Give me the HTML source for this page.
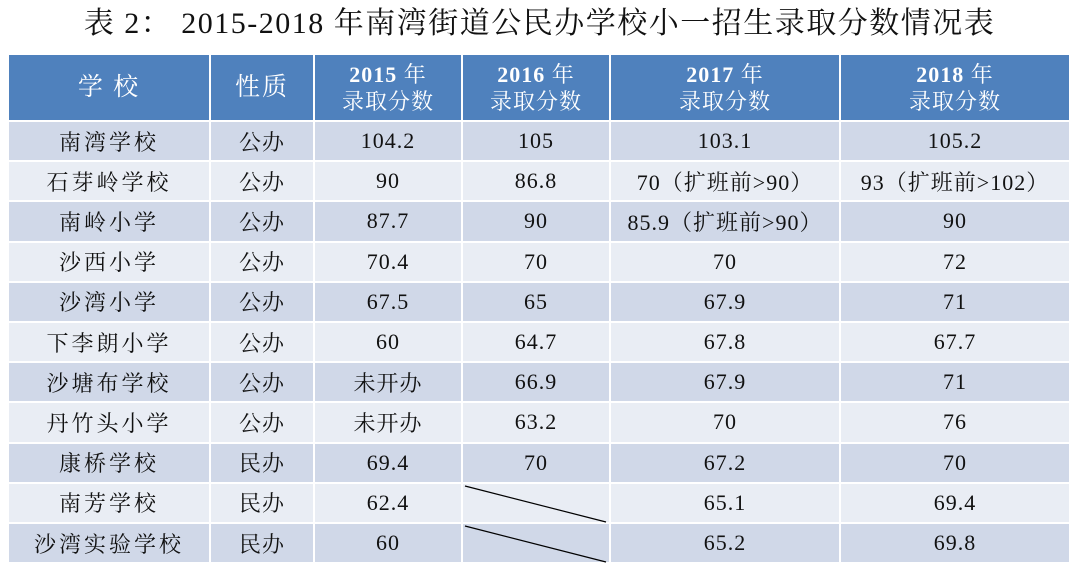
<!DOCTYPE html><html><head><meta charset="utf-8"><style>
body{margin:0;width:1079px;height:573px;background:#fff;position:relative;overflow:hidden;font-family:"Liberation Serif","Noto Serif CJK SC",serif}
.t{position:absolute;left:0;top:4px;width:1079px;text-align:center;font-size:30px;letter-spacing:1.5px;color:#111;line-height:40px}
.c{position:absolute;display:flex;align-items:center;justify-content:center;text-align:center;color:#111;font-size:22px;box-sizing:border-box;letter-spacing:1px}
.h{background:#4f81bd;color:#fff;line-height:27px;font-size:22px}
.h b{font-weight:bold}
</style></head><body>
<div class="t">表 2：  2015-2018 年南湾街道公民办学校小一招生录取分数情况表</div>
<div id="g"></div>
<script>
var X=[9,211,315,463,611,841,1071];
var H=[["学 校"],["性质"],["<b>2015</b> 年<br>录取分数"],["<b>2016</b> 年<br>录取分数"],["<b>2017</b> 年<br>录取分数"],["<b>2018</b> 年<br>录取分数"]];
var D=[["南湾学校","公办","104.2","105","103.1","105.2"],
["石芽岭学校","公办","90","86.8","70（扩班前>90）","93（扩班前>102）"],
["南岭小学","公办","87.7","90","85.9（扩班前>90）","90"],
["沙西小学","公办","70.4","70","70","72"],
["沙湾小学","公办","67.5","65","67.9","71"],
["下李朗小学","公办","60","64.7","67.8","67.7"],
["沙塘布学校","公办","未开办","66.9","67.9","71"],
["丹竹头小学","公办","未开办","63.2","70","76"],
["康桥学校","民办","69.4","70","67.2","70"],
["南芳学校","民办","62.4","","65.1","69.4"],
["沙湾实验学校","民办","60","","65.2","69.8"]];
var s="";
for(var i=0;i<6;i++){s+='<div class="c h" style="left:'+X[i]+'px;top:55px;width:'+(X[i+1]-X[i]-2)+'px;height:65px;'+(i<2?'font-size:25px;letter-spacing:2px':'')+'"><div>'+H[i]+'</div></div>';}
var y0=122,rh=40.2;
for(var r=0;r<11;r++){var y=y0+r*rh;var bg=r%2?'#e9edf4':'#d0d8e8';
for(var i=0;i<6;i++){var t=D[r][i];var ls=i==0?'letter-spacing:3px;':'';
s+='<div class="c" style="left:'+X[i]+'px;top:'+y+'px;width:'+(X[i+1]-X[i]-2)+'px;height:'+(rh-2)+'px;background:'+bg+';'+ls+'"><div>'+t+'</div></div>';
if(r>=9&&i==3)s+='<svg style="position:absolute;left:'+X[i]+'px;top:'+y+'px" width="146" height="40"><line x1="2" y1="2" x2="143" y2="38" stroke="#000" stroke-width="1.2"/></svg>';}}
document.getElementById('g').innerHTML=s;
</script>
</body></html>
